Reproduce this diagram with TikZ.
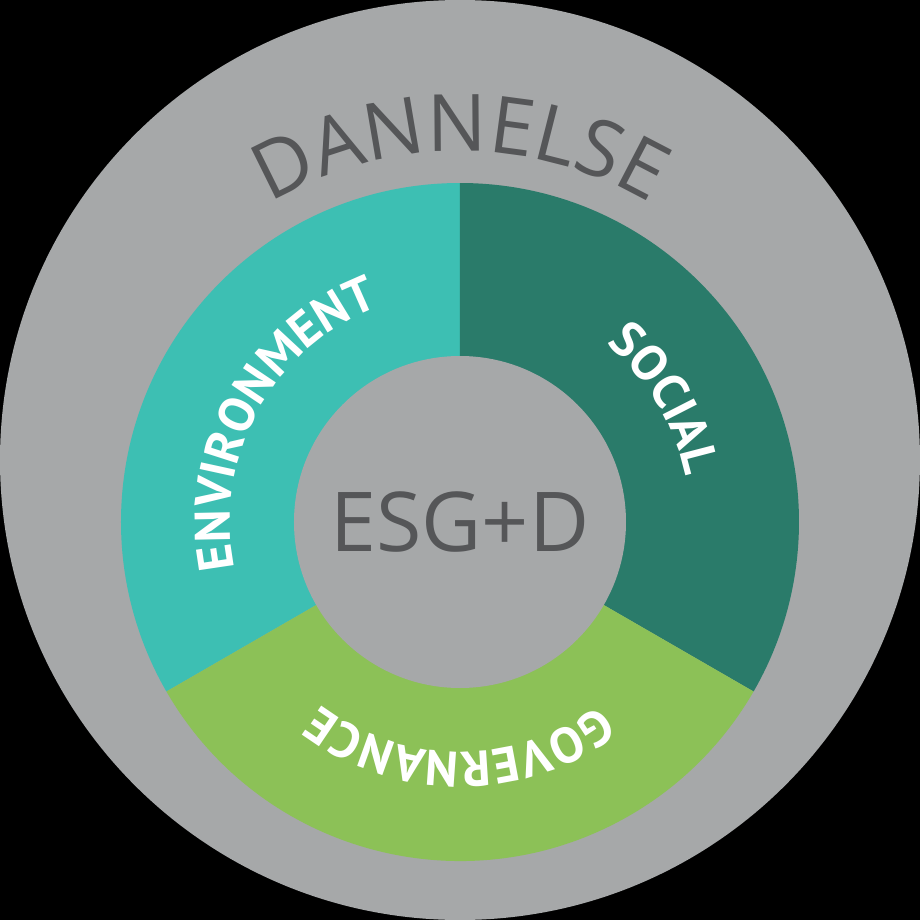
\documentclass[tikz,border=0pt]{standalone}
\usepackage{fontspec}
\setmainfont{Open Sans}
\newfontfamily\ringfont{PT Sans}
\usetikzlibrary{calc,decorations.text}

\definecolor{discgray}{HTML}{A6A8A9}
\definecolor{inkgray}{HTML}{555658}
\definecolor{envteal}{HTML}{3DBFB3}
\definecolor{socgreen}{HTML}{2A7B6A}
\definecolor{govgreen}{HTML}{8CC157}

\begin{document}
\begin{tikzpicture}[
    ringlabel/.style={decorate, decoration={text along path, text align=center,
      text color=white, text={|\ringfont\bfseries\fontsize{14.2}{17}\selectfont|#1}}},
    bigtext/.style={text=inkgray, inner sep=0pt}
  ]
  \fill[black] (-4.6,-4.6) rectangle (4.6,4.6);
  \fill[discgray] (0,0) circle[radius=4.6];
  \coordinate (core) at (0,-0.62);

  % three ring segments
  \fill[envteal] (core) -- ($(core)+(90:3.39)$) arc[start angle=90, end angle=210, radius=3.39] -- cycle;
  \fill[socgreen] (core) -- ($(core)+(90:3.39)$) arc[start angle=90, end angle=-30, radius=3.39] -- cycle;
  \fill[govgreen] (core) -- ($(core)+(210:3.39)$) arc[start angle=210, end angle=330, radius=3.39] -- cycle;
  \fill[discgray] (core) circle[radius=1.66];

  % labels along the ring
  \path[ringlabel=ENVIRONMENT] ($(core)+(196:2.30)$) arc[start angle=196, end angle=106, radius=2.30];
  \path[ringlabel=SOCIAL] ($(core)+(76:2.30)$) arc[start angle=76, end angle=-14, radius=2.30];
  \path[ringlabel=GOVERNANCE] ($(core)+(-45:2.30)$) arc[start angle=-45, end angle=-135, radius=2.30];

  \path[decorate, decoration={text along path, text align=center, text color=inkgray,
      text={|\fontsize{22.5}{27}\selectfont|DANNELSE}}]
    ($(core)+(150:3.71)$) arc[start angle=150, end angle=30, radius=3.71];

  \node[bigtext, font=\fontsize{23.5}{28}\selectfont] (esgd) at (core) {ESG+D};
\end{tikzpicture}
\end{document}
